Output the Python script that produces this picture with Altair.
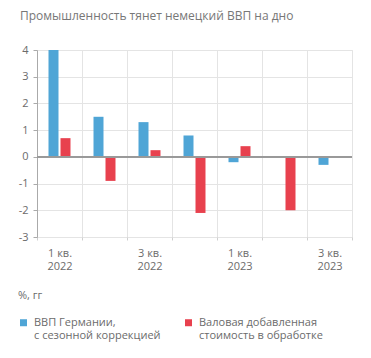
import altair as alt
import pandas as pd

quarters = ["1 кв.|2022", "2 кв.|2022", "3 кв.|2022", "4 кв.|2022",
            "1 кв.|2023", "2 кв.|2023", "3 кв.|2023"]
gdp = [4.0, 1.5, 1.3, 0.8, -0.2, 0.0, -0.3]
manuf = [0.7, -0.9, 0.25, -2.1, 0.4, -2.0, None]
series = ["ВВП Германии,|с сезонной коррекцией",
          "Валовая добавленная|стоимость в обработке"]
colors = ["#4fa5d6", "#e8414e"]
y_ticks = [-3, -2, -1, 0, 1, 2, 3, 4]

rows = []
for q, g, m in zip(quarters, gdp, manuf):
    rows.append({"q": q, "s": series[0], "v": g})
    if m is not None:
        rows.append({"q": q, "s": series[1], "v": m})
df = pd.DataFrame(rows)

FONT = "Open Sans"
TXT = "#6b6b6b"

# square legend symbol, shifted down to line up with the first label line
SQUARE_LOW = "M-1,0.71L1,0.71L1,2.71L-1,2.71Z"

bars = alt.Chart(df).mark_bar().encode(
    x=alt.X("q:N", sort=quarters,
            scale=alt.Scale(paddingInner=0, paddingOuter=0),
            axis=alt.Axis(title=None, labelAngle=0, tickBand="extent",
                          labelExpr="test(/^[13] /, datum.value) ? split(datum.value, '|') : ''",
                          grid=True, gridColor="#e4e4e4", domain=False,
                          ticks=True, tickColor="#d0d0d0", tickSize=3,
                          labelFont=FONT, labelFontSize=11, labelColor=TXT,
                          labelLineHeight=13, labelPadding=7, labelOverlap=False)),
    xOffset=alt.XOffset("s:N", sort=series,
                        scale=alt.Scale(paddingInner=0.1667, paddingOuter=0.958)),
    y=alt.Y("v:Q", scale=alt.Scale(domain=[-3, 4], nice=False),
            axis=alt.Axis(title=None, values=y_ticks, tickCount=len(y_ticks),
                          format="d",
                          labelExpr="replace(datum.label, '\u2212', '-')",
                          labelOverlap=False,
                          grid=True, gridColor="#e4e4e4",
                          domain=True, domainColor="#aaaaaa",
                          ticks=True, tickColor="#aaaaaa", tickSize=4,
                          labelFont=FONT, labelFontSize=11, labelColor=TXT,
                          labelPadding=5)),
    color=alt.Color("s:N", sort=series,
                    scale=alt.Scale(domain=series, range=colors),
                    legend=alt.Legend(orient="none", legendX=-19, legendY=240,
                                      title="%, гг", titleFont=FONT, titleFontSize=11,
                                      titleColor=TXT, titleFontWeight="normal",
                                      titlePadding=10, columns=2, columnPadding=22,
                                      symbolType=SQUARE_LOW, symbolSize=49,
                                      symbolStrokeWidth=0, labelOffset=5,
                                      labelExpr="split(datum.label, '|')",
                                      labelFont=FONT, labelFontSize=11,
                                      labelColor=TXT, labelLimit=300,
                                      labelBaseline="top")),
)

zero = alt.Chart(df).mark_rule(color="#999999", strokeWidth=1).encode(y=alt.datum(0))

chart = alt.layer(bars, zero).properties(
    width=315, height=187,
    padding={"left": 29, "top": 42, "right": 11, "bottom": 121},
    autosize=alt.AutoSizeParams(type="none"),
    title=alt.TitleParams("Промышленность тянет немецкий ВВП на дно",
                          anchor="start", frame="group", dx=-17, offset=21,
                          font=FONT, fontSize=12, color="#777777",
                          fontWeight="normal"),
).configure_view(stroke="#e4e4e4")

chart.save("out.html", embed_options={"renderer": "svg", "actions": False})
